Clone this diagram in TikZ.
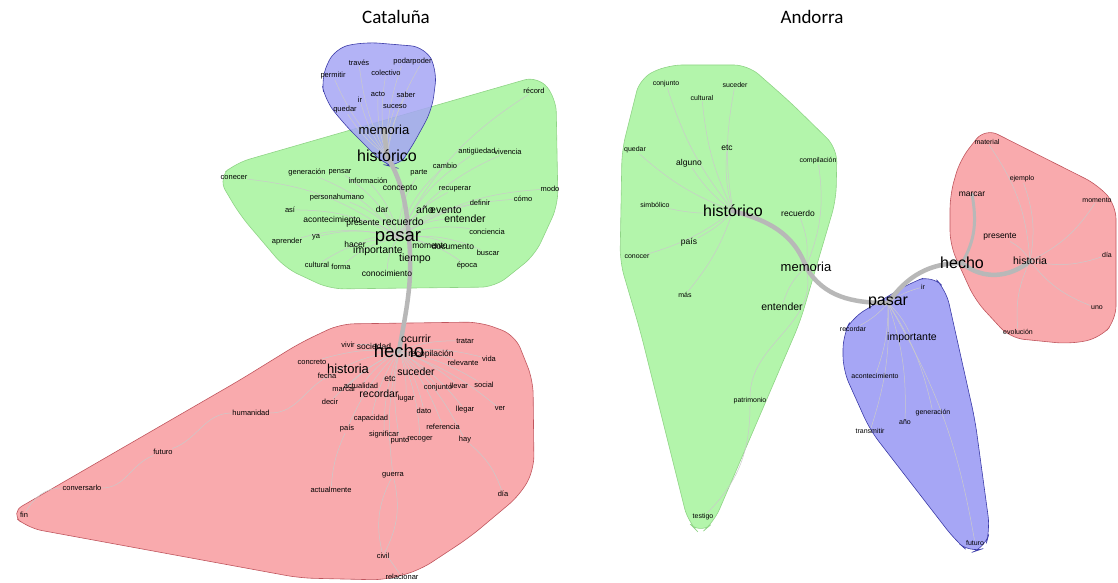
\documentclass[tikz,border=0pt]{standalone}
\usepackage{fontspec}
\setmainfont{Liberation Sans}
\newfontfamily\titlefont{Carlito}
\pgfdeclarelayer{hulls}
\pgfdeclarelayer{links}
\pgfsetlayers{hulls,links,main}
\definecolor{hullgreen}{HTML}{B3F5AB}
\definecolor{hullgreenline}{HTML}{8FD486}
\definecolor{hullred}{HTML}{F9AAAD}
\definecolor{hullredline}{HTML}{C0565E}
\definecolor{hullblue}{HTML}{A6A6F5}
\definecolor{hullblueline}{HTML}{3C3CA8}
\definecolor{linkgray}{HTML}{B8B8B8}
\tikzset{
  w/.style={inner sep=0.5pt, text=black, font=\fontsize{7.5}{8}\selectfont},
  wa/.style={w, font=\fontsize{7}{8}\selectfont},
  wm/.style={w, font=\fontsize{8.5}{9}\selectfont},
  wl/.style={w, font=\fontsize{10.5}{11}\selectfont},
  wh/.style={w, font=\fontsize{13}{14}\selectfont},
  whh/.style={w, font=\fontsize{16}{17}\selectfont},
  wx/.style={w, font=\fontsize{18.5}{19}\selectfont},
  title/.style={font=\titlefont\fontsize{19}{22}\selectfont},
  hull/.style={rounded corners=14pt, line width=0.6pt},
  link/.style={draw=linkgray!75, line width=0.5pt},
  trunk/.style={draw=linkgray, line width=4.5pt, line cap=round}
}
\begin{document}
\begin{tikzpicture}[x=1pt,y=-1pt]
  \useasboundingbox (0,0) rectangle (1118,583);
  \node[title] (tcat) at (396,17) {Cataluña};
  \node[title] (tand) at (812,17) {Andorra};

  % hulls
  \begin{pgfonlayer}{hulls}
    \draw[hull, fill=hullgreen, draw=hullgreenline] (218,178) -- (236,163) -- (538,76) -- (556,98) -- (558,205) -- (535,255) -- (495,287) -- (330,289) -- (285,268) -- (240,215) -- cycle;
    \draw[hull, fill=hullblue, fill opacity=0.85, draw=hullblueline] (321,78) -- (335,48) -- (365,42) -- (425,47) -- (437,70) -- (432,110) -- (410,150) -- (397,168) -- (385,165) -- (345,125) -- (325,100) -- cycle;
    \draw[hull, fill=hullred, draw=hullredline] (10,513) -- (240,380) -- (300,343) -- (340,324) -- (480,322) -- (515,335) -- (533,380) -- (534,470) -- (520,495) -- (470,537) -- (420,570) -- (385,580) -- (300,578) -- (28,528) -- cycle;
    \draw[hull, fill=hullgreen, draw=hullgreenline] (622,150) -- (640,78) -- (668,65) -- (748,65) -- (790,102) -- (837,148) -- (836,200) -- (800,322) -- (714,522) -- (700,534) -- (688,522) -- (640,330) -- (620,262) -- cycle;
    \draw[hull, fill=hullred, draw=hullredline] (950,195) -- (960,160) -- (985,128) -- (1098,185) -- (1116,205) -- (1116,320) -- (1100,338) -- (1070,344) -- (1010,338) -- (975,300) -- (950,245) -- cycle;
    \draw[hull, fill=hullblue, draw=hullblueline] (843,335) -- (852,318) -- (910,283) -- (932,275) -- (946,290) -- (975,420) -- (990,530) -- (985,548) -- (970,553) -- (955,540) -- (870,430) -- (843,370) -- cycle;
  \end{pgfonlayer}

  % Cataluña, blue
  \node[w] (ctraves) at (359,63) {través};
  \node[w] (cpodar) at (403,62) {podar};
  \node[w] (cpoder) at (422,62) {poder};
  \node[w] (ccolectivo) at (386,73) {colectivo};
  \node[w] (cpermitir) at (333,76) {permitir};
  \node[w] (cir) at (360,100) {ir};
  \node[w] (cacto) at (378,94) {acto};
  \node[w] (csaber) at (406,95) {saber};
  \node[w] (cquedar) at (345,110) {quedar};
  \node[w] (csuceso) at (395,107) {suceso};
  \node[wh] (cmemoria) at (384,130) {memoria};
  \node[whh] (chistorico) at (387,156) {histórico};
  % Cataluña, green
  \node[w] (cconecer) at (234,178) {conecer};
  \node[w] (cgeneracion) at (307,173) {generación};
  \node[w] (cpensar) at (340,172) {pensar};
  \node[w] (cinformacion) at (368,181) {información};
  \node[wm] (cconcepto) at (400,189) {concepto};
  \node[w] (cpersonahumano) at (337,198) {personahumano};
  \node[w] (casi) at (290,210) {así};
  \node[wm] (cdar) at (382,209) {dar};
  \node[wm] (cacontecimiento) at (332,219) {acontecimiento};
  \node[wm] (cpresente) at (363,224) {presente};
  \node[wl] (crecuerdo) at (403,222) {recuerdo};
  \node[w] (caprender) at (287,242) {aprender};
  \node[w] (cya) at (316,237) {ya};
  \node[wm] (chacer) at (355,244) {hacer};
  \node[wx] (cpasar) at (398,238) {pasar};
  \node[wl] (cimportante) at (378,251) {importante};
  \node[wl] (ctiempo) at (415,259) {tiempo};
  \node[w] (ccultural) at (317,265) {cultural};
  \node[w] (cforma) at (341,267) {forma};
  \node[wm] (cconocimiento) at (387,273) {conocimiento};
  \node[w] (cparte) at (419,173) {parte};
  \node[w] (ccambio) at (445,166) {cambio};
  \node[w] (cantiguedad) at (477,152) {antigüedad};
  \node[w] (cvivencia) at (508,152) {vivencia};
  \node[w] (crecord) at (534,91) {récord};
  \node[w] (crecuperar) at (455,189) {recuperar};
  \node[w] (cmodo) at (550,189) {modo};
  \node[w] (ccomo) at (523,199) {cómo};
  \node[w] (cdefinir) at (480,203) {definir};
  \node[wl] (cano) at (425,210) {año};
  \node[wl] (cevento) at (446,210) {evento};
  \node[wl] (centender) at (465,219) {entender};
  \node[w] (cconciencia) at (487,232) {conciencia};
  \node[wm] (cmomento) at (430,246) {momento};
  \node[wm] (cdocumento) at (453,246) {documento};
  \node[w] (cbuscar) at (488,253) {buscar};
  \node[w] (cepoca) at (467,266) {época};
  % Cataluña, red
  \node[wl] (cocurrir) at (416,339) {ocurrir};
  \node[w] (ctratar) at (465,341) {tratar};
  \node[w] (cvivir) at (348,345) {vivir};
  \node[wm] (csociedad) at (374,346) {sociedad};
  \node[wx] (checho) at (399,351) {hecho};
  \node[wm] (crecopilacion) at (431,354) {recopilación};
  \node[w] (cconcreto) at (312,362) {concreto};
  \node[w] (crelevante) at (463,363) {relevante};
  \node[w] (cvida) at (489,359) {vida};
  \node[wh] (chistoria) at (348,369) {historia};
  \node[w] (cfecha) at (327,376) {fecha};
  \node[wl] (csuceder) at (416,372) {suceder};
  \node[wm] (cetc) at (390,379) {etc};
  \node[w] (cactualidad) at (361,386) {actualidad};
  \node[w] (cmarcar) at (344,390) {marcar};
  \node[wl] (crecordar) at (379,394) {recordar};
  \node[w] (clugar) at (406,399) {lugar};
  \node[w] (cconjunto) at (438,388) {conjunto};
  \node[w] (cllevar) at (459,386) {llevar};
  \node[w] (csocial) at (484,385) {social};
  \node[w] (cdecir) at (330,402) {decir};
  \node[w] (cllegar) at (465,410) {llegar};
  \node[w] (cver) at (500,409) {ver};
  \node[w] (cdato) at (424,411) {dato};
  \node[w] (ccapacidad) at (371,419) {capacidad};
  \node[w] (cpais) at (347,429) {país};
  \node[w] (creferencia) at (443,427) {referencia};
  \node[w] (csignificar) at (384,435) {significar};
  \node[w] (cpunto) at (400,441) {punto};
  \node[w] (crecoger) at (420,439) {recoger};
  \node[w] (chay) at (465,440) {hay};
  \node[w] (cguerra) at (393,475) {guerra};
  \node[w] (chumanidad) at (251,413) {humanidad};
  \node[w] (cfuturo) at (163,452) {futuro};
  \node[w] (cconversarlo) at (82,488) {conversarlo};
  \node[w] (cfin) at (24,515) {fin};
  \node[w] (cactualmente) at (331,490) {actualmente};
  \node[w] (cdia) at (503,494) {día};
  \node[w] (ccivil) at (383,556) {civil};
  \node[w] (crelacionar) at (402,577) {relacionar};

  % Andorra, green
  \node[wa] (aconjunto) at (666,84) {conjunto};
  \node[wa] (asuceder) at (735,85) {suceder};
  \node[wa] (acultural) at (702,98) {cultural};
  \node[wm] (aetc) at (727,148) {etc};
  \node[wa] (aquedar) at (635,150) {quedar};
  \node[wm] (aalguno) at (689,163) {alguno};
  \node[wa] (acompilacion) at (818,161) {compilación};
  \node[wa] (asimbolico) at (655,205) {simbólico};
  \node[whh] (ahistorico) at (733,211) {histórico};
  \node[wm] (arecuerdo) at (798,213) {recuerdo};
  \node[wm] (apais) at (689,242) {país};
  \node[wa] (aconocer) at (637,257) {conocer};
  \node[wh] (amemoria) at (806,267) {memoria};
  \node[wa] (amas) at (685,295) {más};
  \node[wl] (aentender) at (782,307) {entender};
  \node[wa] (apatrimonio) at (750,401) {patrimonio};
  \node[wa] (atestigo) at (703,517) {testigo};
  % Andorra, red
  \node[wa] (amaterial) at (987,142) {material};
  \node[wa] (aejemplo) at (1022,179) {ejemplo};
  \node[wm] (amarcar) at (972,194) {marcar};
  \node[wa] (amomento) at (1097,200) {momento};
  \node[wm] (apresente) at (1000,237) {presente};
  \node[whh] (ahecho) at (962,263) {hecho};
  \node[wl] (ahistoria) at (1030,261) {historia};
  \node[wa] (adia) at (1107,255) {día};
  \node[wa] (auno) at (1097,308) {uno};
  \node[wa] (aevolucion) at (1018,332) {evolución};
  % Andorra, blue
  \node[wa] (air) at (923,287) {ir};
  \node[whh] (apasar) at (888,303) {pasar};
  \node[wa] (arecordar) at (853,329) {recordar};
  \node[wl] (aimportante) at (912,338) {importante};
  \node[wa] (aacontecimiento) at (875,376) {acontecimiento};
  \node[wa] (ageneracion) at (933,413) {generación};
  \node[wa] (aano) at (905,422) {año};
  \node[wa] (atransmitir) at (870,431) {transmitir};
  \node[wa] (afuturo) at (975,543) {futuro};

  \begin{pgfonlayer}{links}
    % thin links
    \foreach \x in {ctraves, cpodar, cpoder, ccolectivo, cpermitir, cir, cacto, csaber, cquedar, csuceso}
      \draw[link] (chistorico.center) to[bend left=10] (\x);
    \foreach \x in {cconecer, cgeneracion, cpensar, cinformacion, cconcepto, cpersonahumano, casi, cdar, cacontecimiento, cpresente, caprender, cya, chacer, ccultural, cforma, cconocimiento}
      \draw[link] (cpasar.center) to[bend right=15] (\x);
    \foreach \x in {cparte, ccambio, cantiguedad, cvivencia, crecord, crecuperar, cmodo, ccomo, cdefinir, cano, cevento, centender, cconciencia, cmomento, cdocumento, cbuscar, cepoca}
      \draw[link] (cpasar.center) to[bend left=15] (\x);
    \foreach \x in {cvivir, cconcreto, cfecha, cactualidad, cmarcar, cdecir, ccapacidad, cpais, csignificar, cpunto, cguerra}
      \draw[link] (checho.center) to[bend right=10] (\x);
    \foreach \x in {ctratar, crelevante, cvida, cconjunto, cllevar, csocial, cllegar, cver, cdato, creferencia, crecoger, chay, clugar}
      \draw[link] (checho.center) to[bend left=10] (\x);
    \draw[link] (cfin) to[out=60,in=180] (cconversarlo) to[out=0,in=200] (cfuturo) to[out=20,in=180] (chumanidad) to[out=0,in=200] (chistoria);
    \draw[link] (cguerra) to[bend right=20] (ccivil);
    \draw[link] (cguerra) to[bend left=20] (ccivil) -- (crelacionar);
    \draw[link] (cactualmente) to[bend left=10] (cpais);
    \draw[link] (cdia) to[bend right=15] (chay);
    \foreach \x in {aconjunto, asuceder, acultural, aetc, aquedar, aalguno, asimbolico, apais, aconocer, amas}
      \draw[link] (ahistorico.center) to[bend left=10] (\x);
    \foreach \x in {arecuerdo, acompilacion, aentender}
      \draw[link] (amemoria.center) to[bend right=15] (\x);
    \draw[link] (amemoria) to[out=-80,in=90] (apatrimonio) to[out=-90,in=45] (atestigo);
    \foreach \x in {amaterial, aejemplo, amomento, apresente, adia, auno, aevolucion}
      \draw[link] (ahistoria.center) to[bend right=15] (\x);
    \foreach \x in {air, arecordar, aimportante, aacontecimiento, ageneracion, aano, atransmitir, afuturo}
      \draw[link] (apasar.center) to[bend left=10] (\x);
    % trunks
    \draw[trunk] (cmemoria.center) -- (chistorico.center) to[out=-60,in=95] ([xshift=11pt]cpasar.center) to[out=-85,in=80] (checho.center);
    \draw[trunk] (ahistorico.center) to[out=-15,in=110] (amemoria.center) to[out=-60,in=180] (apasar.center) to[out=55,in=180] (ahecho.center) to[out=-40,in=-140] (ahistoria.center);
    \draw[trunk, line width=3pt] (amarcar.center) to[out=-80,in=60] (ahecho.center);
  \end{pgfonlayer}
\end{tikzpicture}
\end{document}
